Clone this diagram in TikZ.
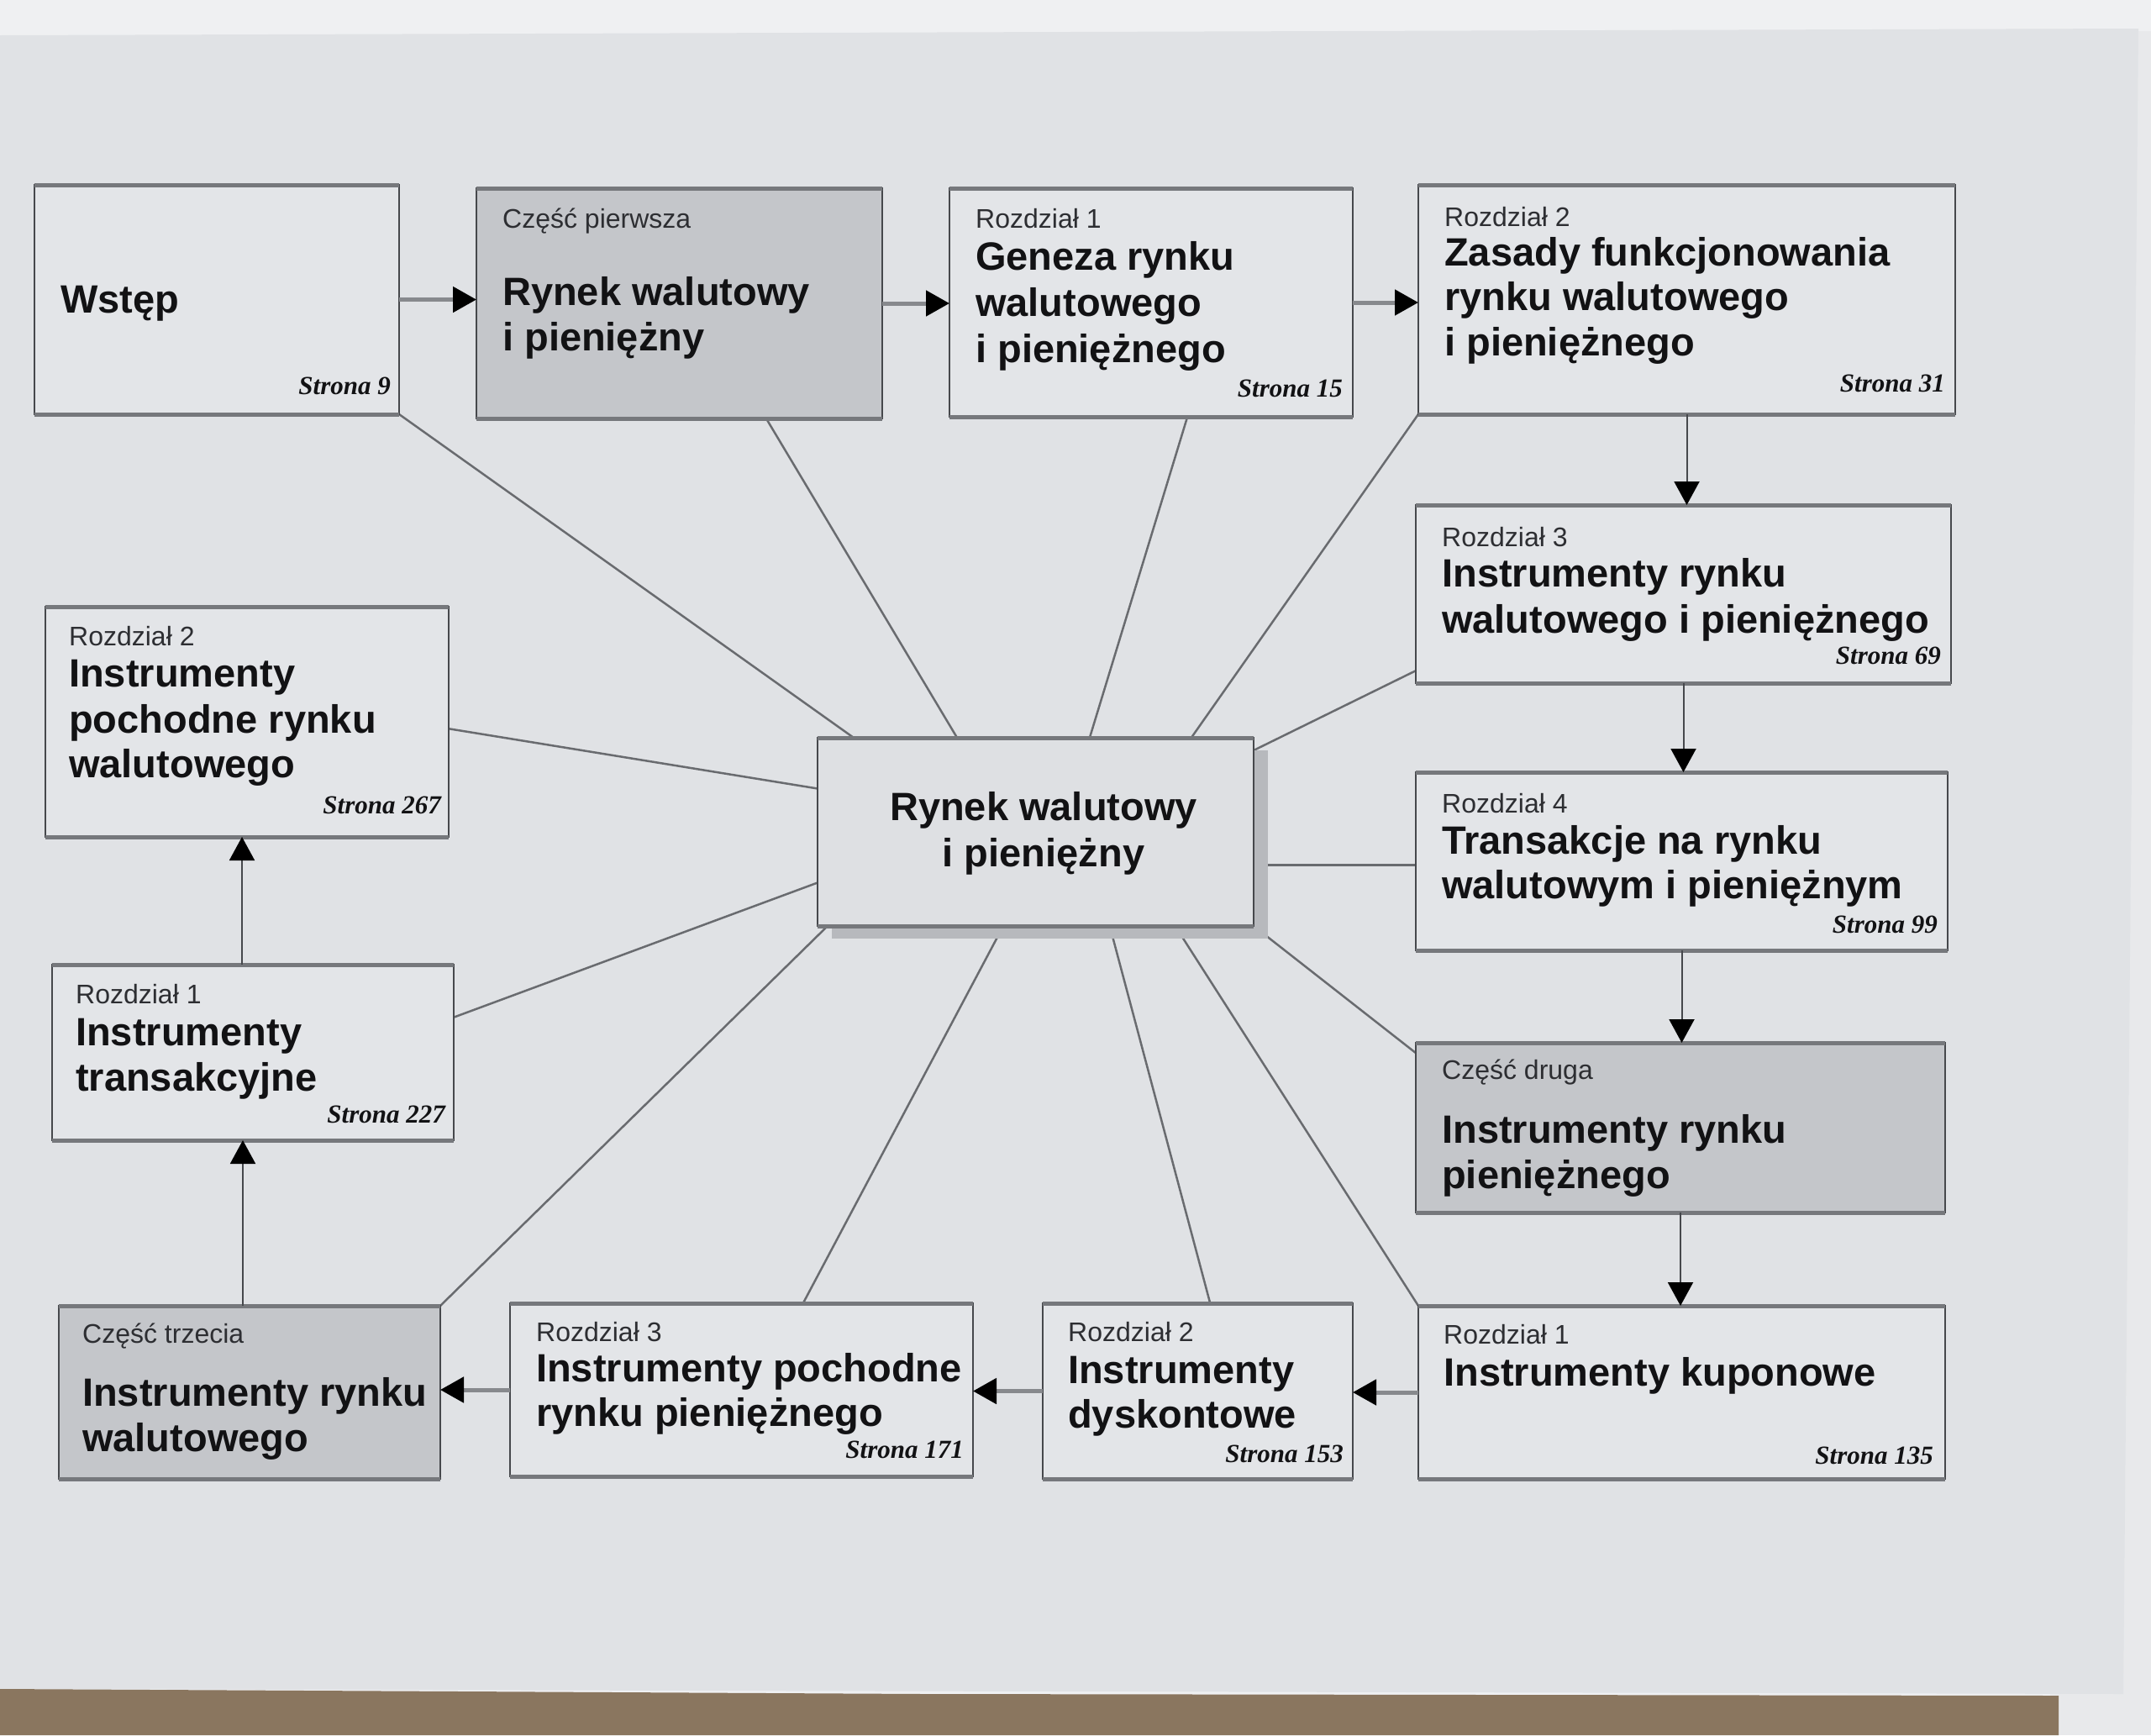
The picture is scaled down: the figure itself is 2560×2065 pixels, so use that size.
\documentclass[tikz,border=0pt]{standalone}
\usepackage{fontspec}
\setmainfont{Liberation Sans}
\newfontfamily\pgfont{Liberation Serif}
\usetikzlibrary{arrows.meta,calc}
\definecolor{topbg}{RGB}{239,240,242}
\definecolor{pagebg}{RGB}{224,226,229}
\definecolor{sidebg}{RGB}{232,233,235}
\definecolor{tablebg}{RGB}{138,118,95}
\definecolor{boxwhite}{RGB}{227,229,232}
\definecolor{boxgray}{RGB}{196,198,202}
\definecolor{centerfill}{RGB}{222,224,227}
\definecolor{shadowgray}{RGB}{183,185,189}
\definecolor{boxedge}{RGB}{70,72,76}
\definecolor{bandgray}{RGB}{118,120,124}
\definecolor{conngray}{RGB}{105,107,111}
\definecolor{shaftgray}{RGB}{135,137,141}
\definecolor{smalltext}{RGB}{45,46,50}
\definecolor{titletext}{RGB}{18,18,20}
\pgfdeclarelayer{back}
\pgfdeclarelayer{lines}
\pgfsetlayers{back,lines,main}
\begin{document}
\begin{tikzpicture}[x=1pt,y=-1pt,
  chbox/.style={draw=boxedge, line width=2pt, inner sep=0pt, outer sep=0pt, anchor=north west, fill=boxwhite},
  partbox/.style={chbox, fill=boxgray},
  band/.style={draw=bandgray, line width=5pt},
  sml/.style={font=\fontsize{32}{38}\selectfont, text=smalltext, inner sep=0pt, anchor=base west},
  ttl/.style={font=\bfseries\fontsize{47}{55}\selectfont, text=titletext, inner sep=0pt, anchor=base west},
  pg/.style={font=\pgfont\bfseries\itshape\fontsize{31}{36}\selectfont, text=titletext, inner sep=0pt, anchor=base east},
  conn/.style={draw=conngray, line width=2.5pt},
  harrow/.style={draw=shaftgray, line width=5pt, -{Triangle[length=28pt,width=30pt,color=black]}},
  varrow/.style={draw=boxedge, line width=2pt, -{Triangle[length=28pt,width=30pt,color=black]}}
]
\useasboundingbox (0,0) rectangle (2560,2065);
\begin{pgfonlayer}{back}
  \fill[topbg] (0,0) rectangle (2560,2065);
  \fill[sidebg] (2440,37) rectangle (2560,2065);
  \fill[pagebg] (0,42) -- (2545,34) -- (2527,2016) -- (0,2010) -- cycle;
  \fill[tablebg] (0,2010) -- (1100,2016) -- (2450,2018) -- (2450,2065) -- (0,2065) -- cycle;
\end{pgfonlayer}

% boxes
\node[chbox, minimum width=434, minimum height=273] (b1) at (41,220) {};
\node[partbox, minimum width=483, minimum height=274] (b2) at (567,224) {};
\node[chbox, minimum width=480, minimum height=272] (b3) at (1130,224) {};
\node[chbox, minimum width=639, minimum height=273] (b4) at (1688,220) {};
\node[chbox, minimum width=637, minimum height=212] (b5) at (1685,601) {};
\node[chbox, minimum width=633, minimum height=212] (b6) at (1685,919) {};
\node[partbox, minimum width=630, minimum height=202] (b7) at (1685,1241) {};
\node[chbox, minimum width=627, minimum height=206] (b8) at (1688,1554) {};
\node[chbox, minimum width=369, minimum height=209] (b9) at (1241,1551) {};
\node[chbox, minimum width=551, minimum height=206] (b10) at (607,1551) {};
\node[partbox, minimum width=454, minimum height=206] (b11) at (70,1554) {};
\node[chbox, minimum width=478, minimum height=209] (b12) at (62,1148) {};
\node[chbox, minimum width=480, minimum height=274] (b13) at (54,722) {};
\fill[shadowgray] (990,893) rectangle (1509,1117);
\node[chbox, fill=centerfill, minimum width=519, minimum height=224] (c) at (973,878) {};

\foreach \b in {b1,b2,b3,b4,b5,b6,b7,b8,b9,b10,b11,b12,b13,c}{
  \draw[band] (\b.north west) -- (\b.north east);
  \draw[band] (\b.south west) -- (\b.south east);
}

% texts
\node[ttl] (t1a) at ([xshift=31pt,yshift=-152pt]b1.north west) {Wstęp};
\node[pg] (p1) at ([xshift=-10pt,yshift=24pt]b1.south east) {Strona 9};

\node[sml] (s2) at ([xshift=31pt,yshift=-47pt]b2.north west) {Część pierwsza};
\node[ttl] (t2a) at ([xshift=31pt,yshift=-139pt]b2.north west) {Rynek walutowy};
\node[ttl] (t2b) at ([xshift=31pt,yshift=-193pt]b2.north west) {i pieniężny};

\node[sml] (s3) at ([xshift=31pt,yshift=-47pt]b3.north west) {Rozdział 1};
\node[ttl] (t3a) at ([xshift=31pt,yshift=-97pt]b3.north west) {Geneza rynku};
\node[ttl] (t3b) at ([xshift=31pt,yshift=-152pt]b3.north west) {walutowego};
\node[ttl] (t3c) at ([xshift=31pt,yshift=-207pt]b3.north west) {i pieniężnego};
\node[pg] (p3) at ([xshift=-12pt,yshift=24pt]b3.south east) {Strona 15};

\node[sml] (s4) at ([xshift=31pt,yshift=-49pt]b4.north west) {Rozdział 2};
\node[ttl] (t4a) at ([xshift=31pt,yshift=-96pt]b4.north west) {Zasady funkcjonowania};
\node[ttl] (t4b) at ([xshift=31pt,yshift=-149pt]b4.north west) {rynku walutowego};
\node[ttl] (t4c) at ([xshift=31pt,yshift=-203pt]b4.north west) {i pieniężnego};
\node[pg] (p4) at ([xshift=-12pt,yshift=27pt]b4.south east) {Strona 31};

\node[sml] (s5) at ([xshift=31pt,yshift=-49pt]b5.north west) {Rozdział 3};
\node[ttl] (t5a) at ([xshift=31pt,yshift=-97pt]b5.north west) {Instrumenty rynku};
\node[ttl] (t5b) at ([xshift=31pt,yshift=-152pt]b5.north west) {walutowego i pieniężnego};
\node[pg] (p5) at ([xshift=-12pt,yshift=23pt]b5.south east) {Strona 69};

\node[sml] (s6) at ([xshift=31pt,yshift=-48pt]b6.north west) {Rozdział 4};
\node[ttl] (t6a) at ([xshift=31pt,yshift=-97pt]b6.north west) {Transakcje na rynku};
\node[ttl] (t6b) at ([xshift=31pt,yshift=-150pt]b6.north west) {walutowym i pieniężnym};
\node[pg] (p6) at ([xshift=-12pt,yshift=21pt]b6.south east) {Strona 99};

\node[sml] (s7) at ([xshift=31pt,yshift=-43pt]b7.north west) {Część druga};
\node[ttl] (t7a) at ([xshift=31pt,yshift=-119pt]b7.north west) {Instrumenty rynku};
\node[ttl] (t7b) at ([xshift=31pt,yshift=-173pt]b7.north west) {pieniężnego};

\node[sml] (s8) at ([xshift=30pt,yshift=-45pt]b8.north west) {Rozdział 1};
\node[ttl] (t8a) at ([xshift=30pt,yshift=-95pt]b8.north west) {Instrumenty kuponowe};
\node[pg] (p8) at ([xshift=-14pt,yshift=18pt]b8.south east) {Strona 135};

\node[sml] (s9) at ([xshift=30pt,yshift=-45pt]b9.north west) {Rozdział 2};
\node[ttl] (t9a) at ([xshift=30pt,yshift=-95pt]b9.north west) {Instrumenty};
\node[ttl] (t9b) at ([xshift=30pt,yshift=-148pt]b9.north west) {dyskontowe};
\node[pg] (p9) at ([xshift=-11pt,yshift=20pt]b9.south east) {Strona 153};

\node[sml] (s10) at ([xshift=31pt,yshift=-45pt]b10.north west) {Rozdział 3};
\node[ttl] (t10a) at ([xshift=31pt,yshift=-93pt]b10.north west) {Instrumenty pochodne};
\node[ttl] (t10b) at ([xshift=31pt,yshift=-146pt]b10.north west) {rynku pieniężnego};
\node[pg] (p10) at ([xshift=-11pt,yshift=22pt]b10.south east) {Strona 171};

\node[sml] (s11) at ([xshift=28pt,yshift=-44pt]b11.north west) {Część trzecia};
\node[ttl] (t11a) at ([xshift=28pt,yshift=-119pt]b11.north west) {Instrumenty rynku};
\node[ttl] (t11b) at ([xshift=28pt,yshift=-173pt]b11.north west) {walutowego};

\node[sml] (s12) at ([xshift=28pt,yshift=-46pt]b12.north west) {Rozdział 1};
\node[ttl] (t12a) at ([xshift=28pt,yshift=-96pt]b12.north west) {Instrumenty};
\node[ttl] (t12b) at ([xshift=28pt,yshift=-150pt]b12.north west) {transakcyjne};
\node[pg] (p12) at ([xshift=-10pt,yshift=21pt]b12.south east) {Strona 227};

\node[sml] (s13) at ([xshift=28pt,yshift=-46pt]b13.north west) {Rozdział 2};
\node[ttl] (t13a) at ([xshift=28pt,yshift=-95pt]b13.north west) {Instrumenty};
\node[ttl] (t13b) at ([xshift=28pt,yshift=-150pt]b13.north west) {pochodne rynku};
\node[ttl] (t13c) at ([xshift=28pt,yshift=-203pt]b13.north west) {walutowego};
\node[pg] (p13) at ([xshift=-9pt,yshift=28pt]b13.south east) {Strona 267};

\node[ttl, anchor=base] (tca) at (1242,976) {Rynek walutowy};
\node[ttl, anchor=base] (tcb) at (1242,1031) {i pieniężny};

% connectors to the centre
\begin{pgfonlayer}{lines}
  \draw[conn] (b1.south east) -- ($(c.north west)!0.083!(c.north east)$);
  \draw[conn] ($(b2.south west)!0.714!(b2.south east)$) -- ($(c.north west)!0.32!(c.north east)$);
  \draw[conn] ($(b3.south west)!0.59!(b3.south east)$) -- ($(c.north west)!0.624!(c.north east)$);
  \draw[conn] (b4.south west) -- ($(c.north west)!0.857!(c.north east)$);
  \draw[conn] ($(b5.north west)!0.93!(b5.south west)$) -- ($(c.north east)!0.067!(c.south east)$);
  \coordinate (r4p) at ($(b6.north west)!0.52!(b6.south west)$);
  \draw[conn] (r4p) -- (r4p -| c.east);
  \draw[conn] ($(b7.north west)!0.06!(b7.south west)$) -- (c.south east);
  \draw[conn] (b8.north west) -- ($(c.south west)!0.82!(c.south east)$);
  \draw[conn] ($(b9.north west)!0.54!(b9.north east)$) -- ($(c.south west)!0.67!(c.south east)$);
  \draw[conn] ($(b10.north west)!0.633!(b10.north east)$) -- ($(c.south west)!0.426!(c.south east)$);
  \draw[conn] (b11.north east) -- ($(c.south west)!0.023!(c.south east)$);
  \draw[conn] ($(b12.north east)!0.30!(b12.south east)$) -- ($(c.north west)!0.77!(c.south west)$);
  \draw[conn] ($(b13.north east)!0.53!(b13.south east)$) -- ($(c.north west)!0.27!(c.south west)$);
\end{pgfonlayer}

% sequence arrows
\draw[harrow] (b1.east) -- (b1.east -| b2.west);
\draw[harrow] (b2.east) -- (b2.east -| b3.west);
\draw[harrow] (b3.east) -- (b3.east -| b4.west);
\draw[varrow] (b4.south) -- (b4.south |- b5.north);
\draw[varrow] (b5.south) -- (b5.south |- b6.north);
\draw[varrow] (b6.south) -- (b6.south |- b7.north);
\draw[varrow] (b7.south) -- (b7.south |- b8.north);
\draw[harrow] (b8.west) -- (b8.west -| b9.east);
\draw[harrow] (b9.west) -- (b9.west -| b10.east);
\draw[harrow] (b10.west) -- (b10.west -| b11.east);
\draw[varrow] ([xshift=-8pt]b11.north) -- ([xshift=-8pt]b11.north |- b12.south);
\draw[varrow] ([xshift=-13pt]b12.north) -- ([xshift=-13pt]b12.north |- b13.south);
\end{tikzpicture}
\end{document}
